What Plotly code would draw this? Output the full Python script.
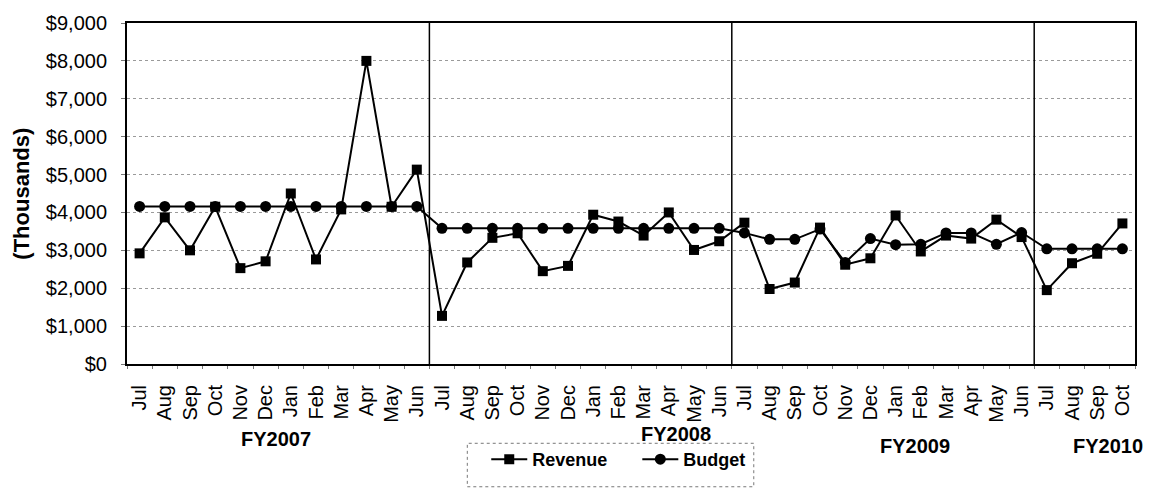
#--------------------- Packages
import plotly.graph_objects as go

#--------------------- Data
fiscal_years = ['FY2007', 'FY2008', 'FY2009', 'FY2010']
fy_months = [
    ['Jul', 'Aug', 'Sep', 'Oct', 'Nov', 'Dec', 'Jan', 'Feb', 'Mar', 'Apr', 'May', 'Jun'],
    ['Jul', 'Aug', 'Sep', 'Oct', 'Nov', 'Dec', 'Jan', 'Feb', 'Mar', 'Apr', 'May', 'Jun'],
    ['Jul', 'Aug', 'Sep', 'Oct', 'Nov', 'Dec', 'Jan', 'Feb', 'Mar', 'Apr', 'May', 'Jun'],
    ['Jul', 'Aug', 'Sep', 'Oct'],
]

revenue = [
    2920, 3870, 3000, 4150, 2530, 2710, 4500, 2760, 4080, 8000, 4150, 5130,
    1270, 2680, 3330, 3450, 2450, 2590, 3940, 3760, 3390, 4000, 3010, 3240,
    3730, 1980, 2150, 3600, 2620, 2790, 3920, 2970, 3390, 3310, 3810, 3350,
    1950, 2660, 2910, 3710,
]
budget = [
    4160, 4160, 4160, 4160, 4160, 4160, 4160, 4160, 4160, 4160, 4160, 4160,
    3580, 3580, 3580, 3580, 3580, 3580, 3580, 3580, 3580, 3580, 3580, 3580,
    3460, 3290, 3290, 3560, 2680, 3310, 3150, 3160, 3460, 3460, 3160, 3470,
    3040, 3040, 3040, 3040,
]

# unique category keys, month names shown as tick text
keys, months = [], []
for fy, ms in zip(fiscal_years, fy_months):
    for m in ms:
        keys.append(fy + ' ' + m)
        months.append(m)

FONT = 'Arial, Liberation Sans, sans-serif'

fig = go.Figure()

fig.add_trace(
    go.Scatter(
        x=keys, y=revenue, name='<b>Revenue</b>' + '\u00a0' * 5, mode='lines+markers',
        line=dict(color='black', width=2),
        marker=dict(symbol='square', size=10, color='black')))

fig.add_trace(
    go.Scatter(
        x=keys, y=budget, name='<b>Budget</b>', mode='lines+markers',
        line=dict(color='black', width=2),
        marker=dict(symbol='circle', size=11, color='black')))

# fiscal year separators
pos = 0
for ms in fy_months[:-1]:
    pos += len(ms)
    fig.add_shape(type='line', xref='x', yref='paper',
                  x0=pos - 0.5, x1=pos - 0.5, y0=0, y1=1,
                  line=dict(color='black', width=1.5))

# fiscal year labels under the months
fy_label_pos = [(0.1475, -0.221, 'center'), (0.5446, -0.2045, 'center'),
                (0.782, -0.241, 'center'), (1.0099, -0.241, 'right')]
for fy, (xp, yp, anchor) in zip(fiscal_years, fy_label_pos):
    fig.add_annotation(text='<b>' + fy + '</b>', xref='paper', yref='paper',
                       x=xp, y=yp, showarrow=False, xanchor=anchor, yanchor='middle',
                       font=dict(size=20, color='black', family=FONT))

# y title
fig.add_annotation(text='<b>(Thousands)</b>', xref='paper', yref='paper',
                   x=-0.105, y=0.5, showarrow=False, textangle=-90,
                   xanchor='center', yanchor='middle',
                   font=dict(size=22, color='black', family=FONT))

# dotted legend frame
fig.add_shape(type='rect', xref='paper', yref='paper',
              x0=0.3376, x1=0.6218, y0=-0.36, y1=-0.2325,
              line=dict(color='#777777', width=1, dash='dot'))

# Axes Parameters
fig.update_xaxes(
    type='category', categoryorder='array', categoryarray=keys,
    tickmode='array', tickvals=keys, ticktext=months,
    tickangle=-90, range=[-0.5, len(keys) - 0.5],
    showgrid=False, showline=True, mirror=True,
    linecolor='black', linewidth=2,
    ticks='outside', ticklen=3, tickwidth=1, tickcolor='#777777',
    tickson='boundaries', ticklabelstandoff=11,
    tickfont=dict(size=20, color='black', family=FONT))

fig.update_yaxes(
    range=[0, 9000], dtick=1000, tickprefix='$', tickformat=',d',
    showgrid=True, gridcolor='#9a9a9a', griddash='dot', gridwidth=1,
    showline=True, mirror=True, linecolor='black', linewidth=2,
    ticks='outside', ticklen=4, tickwidth=1, tickcolor='#777777',
    ticklabelstandoff=10, zeroline=False,
    tickfont=dict(size=20, color='black', family=FONT))

# Layout parameters
fig.update_layout(
    width=1149, height=490,
    margin=dict(l=127, r=12, t=17, b=116),
    plot_bgcolor='white', paper_bgcolor='white',
    showlegend=True,
    legend=dict(orientation='h', x=0.3564, y=-0.28, xanchor='left', yanchor='middle',
                bgcolor='rgba(0,0,0,0)', borderwidth=0,
                font=dict(size=18, color='black', family=FONT),
                itemwidth=36),
    font=dict(family=FONT, color='black'))

# page body margin off so the figure sits at the window origin
fig.write_html('out.html', config={'displayModeBar': False},
               post_script="document.body.style.margin='0';")
